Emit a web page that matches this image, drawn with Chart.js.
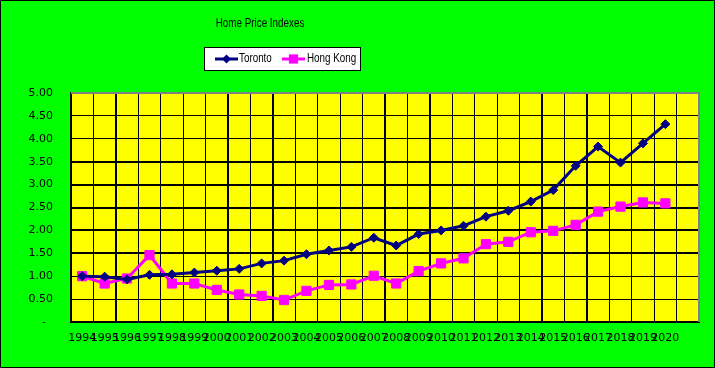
<!DOCTYPE html>
<html><head><meta charset="utf-8">
<script src="https://cdn.jsdelivr.net/npm/chart.js@4/dist/chart.umd.min.js"></script>
<style>html,body{margin:0;padding:0;background:#00FF00;overflow:hidden}#wrap{width:715px;height:368px;position:relative}</style>
</head><body>
<div id="wrap"><canvas id="c" width="715" height="368"></canvas></div>
<script>
const chartTitle = 'Home Price Indexes';
const years = ['1994','1995','1996','1997','1998','1999','2000','2001','2002','2003','2004','2005','2006','2007','2008','2009','2010','2011','2012','2013','2014','2015','2016','2017','2018','2019','2020',''];
const seriesNames = ['Toronto','Hong Kong'];
const toronto = [1.00,0.99,0.93,1.03,1.04,1.08,1.12,1.16,1.28,1.34,1.48,1.56,1.64,1.84,1.67,1.92,2.00,2.10,2.30,2.43,2.63,2.88,3.41,3.83,3.48,3.90,4.32];
const hongKong = [1.00,0.84,0.95,1.46,0.84,0.84,0.70,0.60,0.57,0.48,0.68,0.81,0.82,1.01,0.84,1.11,1.28,1.39,1.70,1.75,1.96,1.99,2.12,2.41,2.52,2.61,2.59];
const yMin = 0, yMax = 5, yStep = 0.5;

const NAVY = '#000080', MAGENTA = '#FF00FF', GRAY = '#808080';
const TXTFONT = "12px 'Liberation Sans', Arial, sans-serif";
const SQUEEZE = 0.82;
const TICKFAMILY = "'DejaVu Sans', Verdana, sans-serif";
const thickX = [2,7,9,14,16,21,23];
const thickY = [3,4,5,6,7];

function narrowText(ctx, text, x, y, align) {
  ctx.save();
  ctx.font = TXTFONT;
  ctx.textBaseline = 'middle';
  const w = ctx.measureText(text).width * SQUEEZE;
  const left = align === 'center' ? x - w / 2 : x;
  ctx.translate(left, y);
  ctx.scale(SQUEEZE, 1);
  ctx.textAlign = 'left';
  ctx.fillText(text, 0, 0);
  ctx.restore();
}

const deco = {
  id: 'deco',
  beforeDraw(chart) {
    const {ctx, chartArea: a} = chart;
    ctx.save();
    ctx.fillStyle = '#00FF00';
    ctx.fillRect(0, 0, chart.width, chart.height);
    ctx.fillStyle = '#FFFF00';
    ctx.fillRect(a.left, a.top, a.right - a.left, a.bottom - a.top);
    ctx.restore();
  },
  afterDraw(chart) {
    const {ctx, chartArea: a} = chart;
    ctx.save();
    ctx.strokeStyle = GRAY; ctx.lineWidth = 2;
    ctx.beginPath();
    ctx.moveTo(a.left, a.top); ctx.lineTo(a.right, a.top); ctx.lineTo(a.right, a.bottom);
    ctx.stroke();
    ctx.strokeStyle = '#000'; ctx.lineWidth = 1;
    ctx.strokeRect(0.5, 0.5, chart.width - 1, chart.height - 1);
    ctx.fillStyle = '#000';
    narrowText(ctx, chartTitle, 260, 24, 'center');
    const lx = 204, ly = 47, lw = 156, lh = 23;
    ctx.fillStyle = '#FFFFFF';
    ctx.fillRect(lx, ly, lw, lh);
    ctx.strokeStyle = '#000'; ctx.lineWidth = 1;
    ctx.strokeRect(lx + 0.5, ly + 0.5, lw, lh);
    const cy = ly + 12;
    const items = [{x: 215, tx: 239}, {x: 282, tx: 307}];
    chart.data.datasets.forEach((ds, i) => {
      const it = items[i];
      ctx.strokeStyle = ds.borderColor; ctx.lineWidth = 3;
      ctx.beginPath(); ctx.moveTo(it.x, cy); ctx.lineTo(it.x + 23, cy); ctx.stroke();
      const mx = it.x + 11.5;
      ctx.fillStyle = ds.backgroundColor;
      if (ds.pointStyle === 'rectRot') {
        const r = ds.pointRadius;
        ctx.beginPath(); ctx.moveTo(mx, cy - r); ctx.lineTo(mx + r, cy); ctx.lineTo(mx, cy + r); ctx.lineTo(mx - r, cy); ctx.closePath(); ctx.fill();
      } else {
        const s = ds.pointRadius * Math.SQRT1_2;
        ctx.fillRect(mx - s, cy - s, 2 * s, 2 * s);
      }
      ctx.fillStyle = '#000';
      narrowText(ctx, ds.label, it.tx, cy, 'left');
    });
    ctx.restore();
  }
};

new Chart(document.getElementById('c'), {
  type: 'line',
  data: {
    labels: years,
    datasets: [
      {label: seriesNames[0], data: toronto, borderColor: NAVY, backgroundColor: NAVY, borderWidth: 3,
       pointStyle: 'rectRot', pointRadius: 4.5, pointBorderWidth: 1, pointBorderColor: NAVY, tension: 0},
      {label: seriesNames[1], data: hongKong, borderColor: MAGENTA, backgroundColor: MAGENTA, borderWidth: 3,
       pointStyle: 'rect', pointRadius: 6.5, pointBorderWidth: 1, pointBorderColor: MAGENTA, tension: 0}
    ]
  },
  options: {
    responsive: false, animation: false, devicePixelRatio: 1,
    layout: {padding: {left: 0, top: 93, right: 16, bottom: 0}},
    plugins: {legend: {display: false}, title: {display: false}, tooltip: {enabled: false}},
    scales: {
      x: {
        offset: true,
        grid: {offset: true, color: '#000', lineWidth: c => thickX.includes(c.index) ? 2 : 1, drawTicks: false},
        border: {display: true, color: '#000', width: 2},
        ticks: {autoSkip: false, maxRotation: 0, minRotation: 0, color: '#000', font: {family: TICKFAMILY, size: 11}, padding: 10},
        afterFit(s) { s.height = 46; }
      },
      y: {
        min: yMin, max: yMax,
        grid: {color: '#000', lineWidth: c => thickY.includes(c.index) ? 2 : 1, drawTicks: false},
        border: {display: true, color: '#000', width: 2},
        ticks: {stepSize: yStep, color: '#000', font: {family: TICKFAMILY, size: 11}, padding: 18,
                callback: v => v === 0 ? '-  ' : Number(v).toFixed(2)},
        afterFit(s) { s.width = 71; }
      }
    }
  },
  plugins: [deco]
});
</script>
</body></html>
